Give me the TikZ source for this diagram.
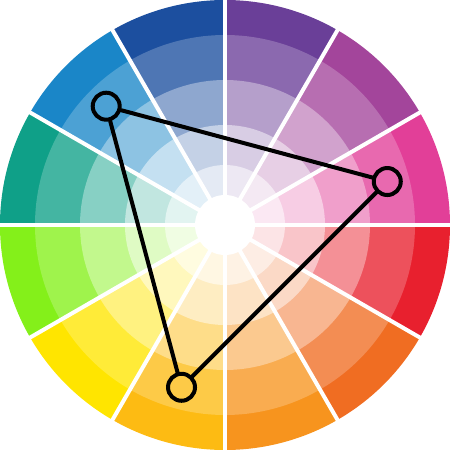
\documentclass[tikz,border=0pt]{standalone}
\definecolor{wPink}{HTML}{E23F98}
\definecolor{wMagenta}{HTML}{A3459B}
\definecolor{wPurple}{HTML}{6A3F98}
\definecolor{wNavy}{HTML}{1C4F9F}
\definecolor{wBlue}{HTML}{1A86C8}
\definecolor{wTeal}{HTML}{0FA088}
\definecolor{wGreen}{HTML}{84F01A}
\definecolor{wYellow}{HTML}{FFE500}
\definecolor{wAmber}{HTML}{FDBB13}
\definecolor{wApricot}{HTML}{F7941E}
\definecolor{wOrange}{HTML}{F06D22}
\definecolor{wRed}{HTML}{E8202E}
\tikzset{
  vertex/.style={circle,draw=black,line width=0.08cm,minimum size=0.54cm,inner sep=0pt},
  edge/.style={black,line width=0.08cm}
}
\begin{document}
\begin{tikzpicture}[line join=round,line cap=round,x=0.02cm,y=0.02cm]
	\useasboundingbox (-225,-225) rectangle (225,225);
	%Vòng màu
	\foreach \c [count=\i from 0] in {wPink,wMagenta,wPurple,wNavy,wBlue,wTeal,wGreen,wYellow,wAmber,wApricot,wOrange,wRed}{
		\foreach \r/\p in {225/100,190/78,145/50,100/26,60/12}{
			\fill[\c!\p!white] (0,0)--(\i*30:\r) arc[start angle=\i*30,end angle=\i*30+30,radius=\r]--cycle;
		}
	}
	%Khe trắng
	\foreach \a in {0,30,...,330}
		\draw[white,line width=0.08cm] (0,0)--(\a:235);
	\fill[white] (0,0) circle[radius=30];
	%Tam giác
	\node[vertex] (A) at (135:168) {};
	\node[vertex] (B) at (15:168) {};
	\node[vertex] (C) at (255:168) {};
	\draw[edge] (A)--(B)--(C)--(A);
\end{tikzpicture}
\end{document}
